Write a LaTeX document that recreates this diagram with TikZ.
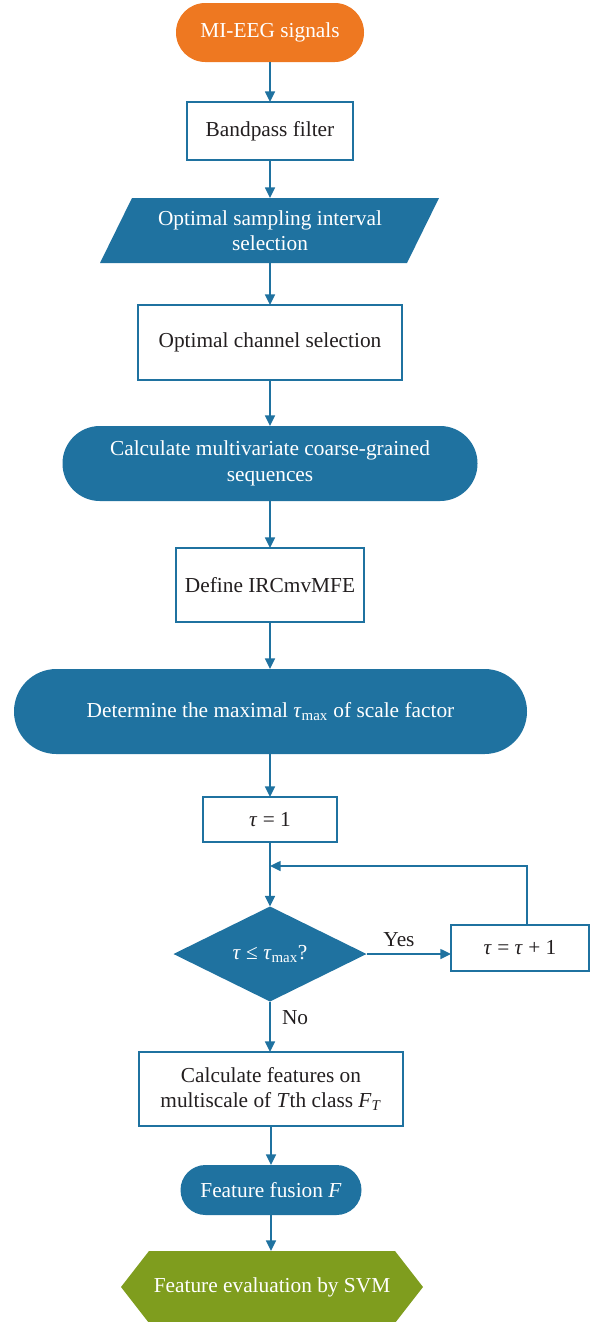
\documentclass[tikz,border=0pt]{standalone}
\usepackage{fontspec}
\setmainfont{Liberation Serif}
\usetikzlibrary{shapes.geometric,arrows.meta}
\definecolor{fblue}{RGB}{31,114,160}
\definecolor{forange}{RGB}{238,120,33}
\definecolor{fgreen}{RGB}{127,157,30}
\definecolor{ftext}{RGB}{35,31,32}
\newcommand{\tu}{\textit{τ}}
\begin{document}
\begin{tikzpicture}[x=0.75pt,y=-0.75pt,
  every node/.style={font=\fontsize{16}{19}\selectfont, align=center, inner sep=0pt, outer sep=0pt},
  sz/.style 2 args={minimum width=#1*0.75pt, minimum height=#2*0.75pt},
  wbox/.style={rectangle, draw=fblue, line width=1.1pt, fill=white, text=ftext},
  bfill/.style={rectangle, fill=fblue, text=white},
  conn/.style={draw=fblue, line width=1.1pt, -{Triangle[length=8pt,width=7.5pt]}},
  lbl/.style={text=ftext}]
\useasboundingbox (0,0) rectangle (598,1322);
\clip (0,0) rectangle (598,1322);

% start
\node[rectangle, fill=forange, text=white, sz={188}{59}, rounded corners=22pt] (start) at (270,32.5) {MI-EEG signals};
\node[wbox, sz={166}{58}] (bp) at (270,131) {Bandpass filter};
% parallelogram
\fill[fblue] (100,263) -- (132,198) -- (439,198) -- (407,263) -- cycle;
\node[text=white, sz={339}{65}] (osi) at (270,230.5) {Optimal sampling interval\\selection};
\node[wbox, sz={264}{75}] (ocs) at (270,342.5) {Optimal channel selection};
\node[bfill, sz={415}{75}, rounded corners=28pt] (cmc) at (270,463.5) {Calculate multivariate coarse-grained\\sequences};
\node[wbox, sz={188}{74}] (def) at (270,585) {Define IRCmvMFE};
\node[bfill, sz={513}{85}, rounded corners=31.8pt] (det) at (270.5,711.5) {Determine the maximal \tu\textsubscript{max} of scale factor};
\node[wbox, sz={134}{45}] (t1) at (270,819.5) {\tu\ = 1};
\node[diamond, fill=fblue, text=white, sz={193}{95}, aspect=2] (dec) at (270,954) {\tu\ ≤ \tu\textsubscript{max}?};
\node[wbox, sz={138}{46}] (inc) at (520,948) {\tu\ = \tu\ + 1};
\coordinate (fb) at (270,866);
\node[wbox, sz={264}{74}] (cf) at (271,1089) {Calculate features on\\multiscale of \textit{T}th class \textit{F}\textsubscript{\textit{T}}};
\node[bfill, sz={181}{50}, rounded corners=18.75pt] (ff) at (271,1190) {Feature fusion \textit{F}};
% hexagon
\fill[fgreen] (121,1287) -- (149,1251) -- (395,1251) -- (423,1287) -- (395,1323) -- (149,1323) -- cycle;
\node[text=white, sz={302}{72}] (svm) at (272,1287) {Feature evaluation by SVM};

% connectors
\draw[conn] (start) -- (bp);
\draw[conn] (bp) -- (osi);
\draw[conn] (osi) -- (ocs);
\draw[conn] (ocs) -- (cmc);
\draw[conn] (cmc) -- (def);
\draw[conn] (def) -- (det.north -| def.south);
\draw[conn] (det.south -| t1.north) -- (t1);
\draw[conn] (t1) -- (dec);
\draw[conn] (dec.east) -- (dec.east -| inc.west);
\draw[conn] (inc.north -| 527,0) -- (527,866) -- (fb);
\draw[conn] (dec.south) -- (dec.south |- cf.north);
\draw[conn] (cf) -- (ff);
\draw[conn] (ff) -- (svm.north -| ff.south);

\node[lbl, anchor=south] (yes) at (399,947) {Yes};
\node[lbl, anchor=west] (no) at (282,1018) {No};
\end{tikzpicture}
\end{document}
